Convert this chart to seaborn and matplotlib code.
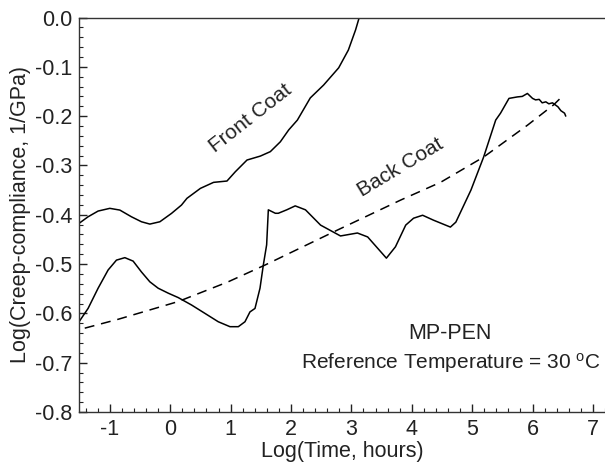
import numpy as np
import pandas as pd
import matplotlib
matplotlib.use("Agg")
import matplotlib.pyplot as plt
from matplotlib.ticker import MultipleLocator
import seaborn as sns

# ---- data ----
front_x = [-1.526, -1.36, -1.194, -1.0, -0.834, -0.642, -0.476, -0.337, -0.171, 0.022,
           0.187, 0.277, 0.5, 0.718, 0.94, 1.078, 1.272, 1.493, 1.658, 1.824, 1.962,
           2.106, 2.32, 2.54, 2.79, 2.95, 3.07, 3.13]
front_y = [-0.4189, -0.4041, -0.3925, -0.3870, -0.3905, -0.4041, -0.4142, -0.4189,
           -0.4142, -0.3972, -0.3803, -0.3667, -0.3465, -0.3343, -0.3316, -0.3128,
           -0.289, -0.281, -0.272, -0.252, -0.228, -0.208, -0.163, -0.137, -0.102,
           -0.066, -0.025, 0.0]

back_x = [-1.526, -1.36, -1.194, -1.028, -0.89, -0.751, -0.614, -0.476, -0.337, -0.199,
          -0.033, 0.133, 0.353, 0.575, 0.796, 0.99, 1.128, 1.238, 1.321, 1.404, 1.487,
          1.542, 1.597, 1.625, 1.741, 1.79, 1.93, 2.07, 2.24, 2.49, 2.82, 3.1, 3.27,
          3.58, 3.73, 3.9, 4.03, 4.18, 4.36, 4.64, 4.73, 4.98, 5.19, 5.39, 5.47, 5.61,
          5.75, 5.83, 5.915, 6.0, 6.05, 6.11, 6.16, 6.22, 6.27, 6.33, 6.42, 6.47, 6.53,
          6.55]
back_y = [-0.620, -0.590, -0.549, -0.512, -0.492, -0.487, -0.494, -0.516, -0.536, -0.549,
          -0.559, -0.568, -0.583, -0.600, -0.617, -0.627, -0.627, -0.617, -0.597, -0.590,
          -0.549, -0.502, -0.461, -0.390, -0.397, -0.397, -0.390, -0.382, -0.390, -0.421,
          -0.443, -0.437, -0.445, -0.488, -0.465, -0.421, -0.407, -0.401, -0.411, -0.425,
          -0.415, -0.350, -0.283, -0.208, -0.194, -0.164, -0.161, -0.160, -0.154, -0.164,
          -0.167, -0.166, -0.173, -0.171, -0.175, -0.173, -0.181, -0.189, -0.194, -0.200]

fit_x = [-1.415, -0.862, 0.133, 0.96, 1.57, 2.77, 3.82, 4.48, 5.19, 5.92, 6.35, 6.5]
fit_y = [-0.630, -0.612, -0.576, -0.536, -0.502, -0.431, -0.370, -0.334, -0.283, -0.218,
         -0.177, -0.159]

x_ticks = [-1, 0, 1, 2, 3, 4, 5, 6, 7]
y_ticks = [0.0, -0.1, -0.2, -0.3, -0.4, -0.5, -0.6, -0.7, -0.8]

sns.set_theme(style="ticks")
plt.rcParams['font.family'] = ['Liberation Sans', 'DejaVu Sans']
plt.rcParams['mathtext.fontset'] = 'custom'
plt.rcParams['mathtext.rm'] = 'Liberation Sans'
plt.rcParams['mathtext.it'] = 'Liberation Sans'

fig = plt.figure(figsize=(6.05, 4.66), dpi=100)
ax = fig.add_axes([0.1306, 0.1159, 0.8694, 0.8465])

df_front = pd.DataFrame({"x": front_x, "y": front_y})
df_back = pd.DataFrame({"x": back_x, "y": back_y})
df_fit = pd.DataFrame({"x": fit_x, "y": fit_y})

sns.lineplot(data=df_front, x="x", y="y", sort=False, color="black", lw=1.1, ax=ax)
sns.lineplot(data=df_back, x="x", y="y", sort=False, color="black", lw=1.1, ax=ax)
sns.lineplot(data=df_fit, x="x", y="y", sort=False, color="black", lw=1.1, ax=ax,
             dashes=False, linestyle=(0, (6.5, 4.5)))

ax.set_xlim(-1.51, 7.2)
ax.set_ylim(-0.8, 0.0)
ax.set_xticks(x_ticks)
ax.set_xticklabels([str(v) for v in x_ticks])
ax.set_yticks(y_ticks)
ax.set_yticklabels(["0.0" if v == 0 else f"{v:.1f}" for v in y_ticks])
ax.xaxis.set_minor_locator(MultipleLocator(0.2))
ax.yaxis.set_minor_locator(MultipleLocator(0.02))
ax.tick_params(which="major", direction="in", length=6, width=1.0, labelsize=15.5,
               colors="#222222", pad=5)
ax.tick_params(which="minor", direction="in", length=3, width=0.8, colors="#222222")

for s in ["left", "bottom", "top"]:
    ax.spines[s].set_color("#333333")
    ax.spines[s].set_linewidth(1.0)
ax.spines["top"].set_linestyle((0, (5, 1)))
ax.spines["right"].set_visible(False)

ax.set_xlabel("Log(Time, hours)", fontsize=15.5, color="#222222", labelpad=1)
ax.set_ylabel("Log(Creep-compliance, 1/GPa)", fontsize=15.5, color="#222222", labelpad=3)

ax.text(1.33, -0.205, "Front Coat", rotation=38, fontsize=15, ha="center", va="center",
        color="#222222")
ax.text(3.82, -0.305, "Back Coat", rotation=31, fontsize=15, ha="center", va="center",
        color="#222222")
ax.text(4.64, -0.64, "MP-PEN", fontsize=15.5, ha="center", va="center", color="#222222")
ax.text(4.65, -0.70, r"Reference Temperature = 30 $^{\mathrm{o}}$C", fontsize=15,
        ha="center", va="center", color="#222222")

if ax.get_legend() is not None:
    ax.get_legend().remove()

fig.savefig("out.png", dpi=100)
